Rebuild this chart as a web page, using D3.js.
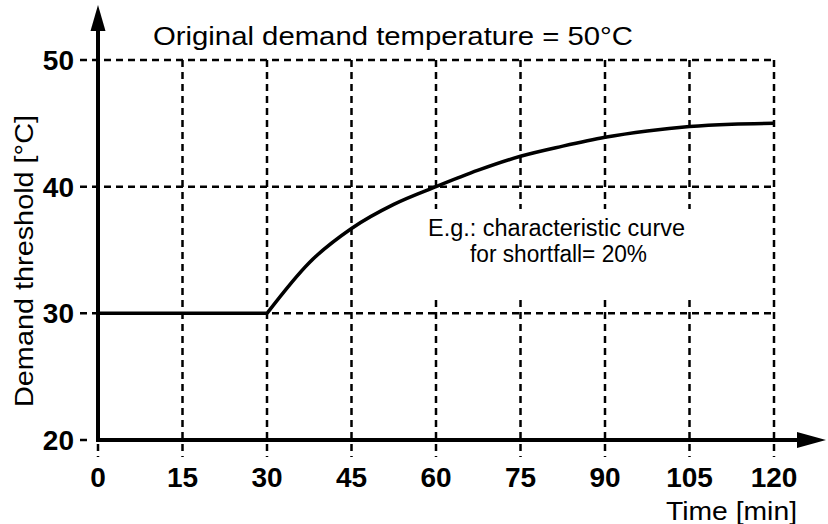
<!DOCTYPE html>
<html>
<head>
<meta charset="utf-8">
<script src="https://cdn.jsdelivr.net/npm/d3@7"></script>
<style>
body { margin: 0; background: #fff; }
text { font-family: "Liberation Sans", Arial, sans-serif; fill: #000; }
</style>
</head>
<body>
<div id="chart"></div>
<script>
var width = 828;
var height = 524;

// data
var timeTicks = [0, 15, 30, 45, 60, 75, 90, 105, 120];
var tempTicks = [20, 30, 40, 50];
var flatTime = [0, 30];
var flatTemp = [30, 30];
var riseTime = [30, 37.5, 45, 52.5, 60, 67.5, 75, 82.5, 90, 97.5, 105, 112.5, 120];
var riseTemp = [30, 34.0, 36.7, 38.6, 40.0, 41.3, 42.4, 43.2, 43.9, 44.4, 44.75, 44.93, 45.0];

var svg = d3.select("#chart").append("svg")
            .attr("width", width)
            .attr("height", height);

var x = d3.scaleLinear()
          .domain([0, 120])
          .range([98, 774]);

var y = d3.scaleLinear()
          .domain([20, 50])
          .range([440, 60]);

// grid
svg.append("g").selectAll("line")
   .data(tempTicks.filter(function(d){ return d > 20; }))
   .enter().append("line")
   .attr("x1", 80).attr("x2", x(120))
   .attr("y1", function(d){ return y(d); })
   .attr("y2", function(d){ return y(d); })
   .attr("stroke", "#000")
   .attr("stroke-width", 2.5)
   .attr("stroke-dasharray", "7,5");

svg.append("line")
   .attr("x1", 80).attr("x2", 87)
   .attr("y1", y(20)).attr("y2", y(20))
   .attr("stroke", "#000")
   .attr("stroke-width", 2.5);

svg.append("g").selectAll("line")
   .data(timeTicks)
   .enter().append("line")
   .attr("x1", function(d){ return x(d); })
   .attr("x2", function(d){ return x(d); })
   .attr("y1", y(50)).attr("y2", 457)
   .attr("stroke", "#000")
   .attr("stroke-width", 2.5)
   .attr("stroke-dasharray", "7,5");

// white box behind the note
svg.append("rect")
   .attr("x", 402).attr("y", 209)
   .attr("width", 318).attr("height", 91)
   .attr("fill", "#fff");

// curve
var toPts = function(ts, vs){ return ts.map(function(t, i){ return {t: t, v: vs[i]}; }); };
var valueLine = d3.line()
                  .x(function(d){ return x(d.t); })
                  .y(function(d){ return y(d.v); })
                  .curve(d3.curveMonotoneX);

svg.append("path")
   .attr("d", valueLine(toPts(flatTime, flatTemp)) + valueLine(toPts(riseTime, riseTemp)))
   .attr("fill", "none")
   .attr("stroke", "#000")
   .attr("stroke-width", 3.5);

// axes with arrows
svg.append("line")
   .attr("x1", x(0)).attr("x2", x(0))
   .attr("y1", y(20) + 2).attr("y2", 28)
   .attr("stroke", "#000").attr("stroke-width", 4);
svg.append("path")
   .attr("d", "M" + x(0) + ",5 L" + (x(0) - 7.5) + ",31 L" + (x(0) + 7.5) + ",31 Z")
   .attr("fill", "#000");

svg.append("line")
   .attr("x1", x(0) - 2).attr("x2", 800)
   .attr("y1", y(20)).attr("y2", y(20))
   .attr("stroke", "#000").attr("stroke-width", 4);
svg.append("path")
   .attr("d", "M826," + y(20) + " L797," + (y(20) - 8) + " L797," + (y(20) + 8) + " Z")
   .attr("fill", "#000");

// tick labels
svg.append("g").selectAll("text")
   .data(timeTicks)
   .enter().append("text")
   .attr("x", function(d){ return x(d); })
   .attr("y", 487)
   .attr("text-anchor", "middle")
   .style("font-size", "28px")
   .style("font-weight", "bold")
   .text(function(d){ return d; });

svg.append("g").selectAll("text")
   .data(tempTicks)
   .enter().append("text")
   .attr("x", 74)
   .attr("y", function(d){ return y(d) + 10; })
   .attr("text-anchor", "end")
   .style("font-size", "28px")
   .style("font-weight", "bold")
   .text(function(d){ return d; });

// titles
svg.append("text")
   .attr("x", 153).attr("y", 45)
   .attr("textLength", 480)
   .attr("lengthAdjust", "spacingAndGlyphs")
   .style("font-size", "26px")
   .text("Original demand temperature = 50°C");

svg.append("text")
   .attr("x", 428).attr("y", 236)
   .attr("textLength", 257)
   .attr("lengthAdjust", "spacingAndGlyphs")
   .style("font-size", "23px")
   .text("E.g.: characteristic curve");

svg.append("text")
   .attr("x", 470).attr("y", 262)
   .attr("textLength", 177)
   .attr("lengthAdjust", "spacingAndGlyphs")
   .style("font-size", "23px")
   .text("for shortfall= 20%");

svg.append("text")
   .attr("transform", "translate(33,261) rotate(-90)")
   .attr("text-anchor", "middle")
   .attr("textLength", 292)
   .attr("lengthAdjust", "spacingAndGlyphs")
   .style("font-size", "26px")
   .text("Demand threshold [°C]");

svg.append("text")
   .attr("x", 666).attr("y", 520)
   .attr("textLength", 131)
   .attr("lengthAdjust", "spacingAndGlyphs")
   .style("font-size", "25px")
   .text("Time [min]");
</script>
</body>
</html>
